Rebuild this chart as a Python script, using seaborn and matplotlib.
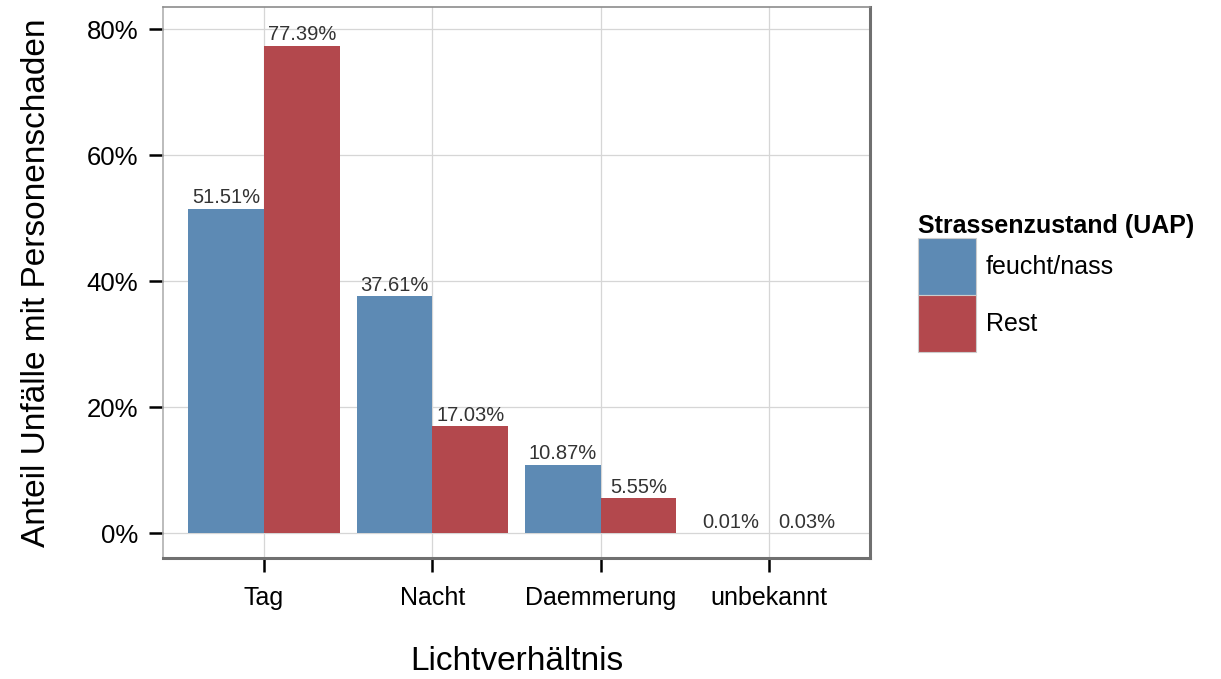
import seaborn as sns
import matplotlib.pyplot as plt
import pandas as pd

categories = ["Tag", "Nacht", "Daemmerung", "unbekannt"]
groups = ["feucht/nass", "Rest"]
feucht_nass = [51.51, 37.61, 10.87, 0.01]
rest = [77.39, 17.03, 5.55, 0.03]
y_ticks = [0, 20, 40, 60, 80]

df = pd.DataFrame({
    "Lichtverhaeltnis": categories * 2,
    "Strassenzustand": [groups[0]] * 4 + [groups[1]] * 4,
    "Anteil": feucht_nass + rest,
})

sns.set_style("whitegrid")
plt.rcParams["font.family"] = ["Liberation Sans", "DejaVu Sans"]
plt.rcParams["text.color"] = "black"
plt.rcParams["axes.labelcolor"] = "black"

DPI = 100
fig = plt.figure(figsize=(1221 / DPI, 679 / DPI), dpi=DPI)
ax = fig.add_axes([163 / 1221, 1 - 558 / 679, (870 - 163) / 1221, (558 - 7) / 679])

sns.barplot(
    data=df, x="Lichtverhaeltnis", y="Anteil", hue="Strassenzustand",
    order=categories, hue_order=groups,
    palette=["#5D8AB4", "#B3484D"], saturation=1,
    width=0.9, gap=0, errorbar=None, ax=ax, zorder=2, linewidth=0,
)

for cont in ax.containers:
    vals = cont.datavalues
    ax.bar_label(cont, labels=[f"{v:.2f}%" for v in vals], padding=1,
                 fontsize=14.5, color="#333333")

ax.set_xlim(-0.6, 3.6)
ax.set_ylim(-3.9, 83.5)
ax.set_yticks(y_ticks)
ax.set_yticklabels([f"{t}%" for t in y_ticks])

ax.grid(True, color="#d6d6d6", linewidth=0.9, zorder=0)
ax.set_axisbelow(True)
for side, sp in ax.spines.items():
    sp.set_visible(True)
    sp.set_color("#8c8c8c")
    sp.set_linewidth(1.2)
ax.spines["left"].set_color("#b0b0b0")
ax.spines["bottom"].set_color("#707070")
ax.spines["right"].set_color("#707070")
ax.spines["bottom"].set_linewidth(2.2)
ax.spines["right"].set_linewidth(2.2)

ax.tick_params(axis="both", which="major", direction="out", length=10, width=1.8,
               color="black", labelsize=18, labelcolor="black",
               bottom=True, left=True)
ax.tick_params(axis="y", pad=8, labelsize=18.5)
ax.tick_params(axis="x", pad=10)

ax.set_xlabel("Lichtverhältnis", fontsize=24, labelpad=26, color="black")
ax.set_ylabel("Anteil Unfälle mit Personenschaden", fontsize=24, labelpad=25, color="black")

leg = ax.legend(
    title="Strassenzustand (UAP)", loc="upper left",
    bbox_to_anchor=(1.054, 0.642), frameon=False,
    fontsize=18, handlelength=2.3, handleheight=3.13,
    labelspacing=0.0, handletextpad=0.4, borderaxespad=0,
)
leg.get_title().set_fontweight("bold")
leg.get_title().set_fontsize(18)
leg.get_title().set_color("black")
for t in leg.get_texts():
    t.set_color("black")
leg._legend_box.align = "left"
for h in leg.legend_handles:
    h.set_edgecolor("#cccccc")
    h.set_linewidth(0.8)

plt.savefig("out.png", dpi=DPI, bbox_inches=None, pad_inches=0)
plt.close()
